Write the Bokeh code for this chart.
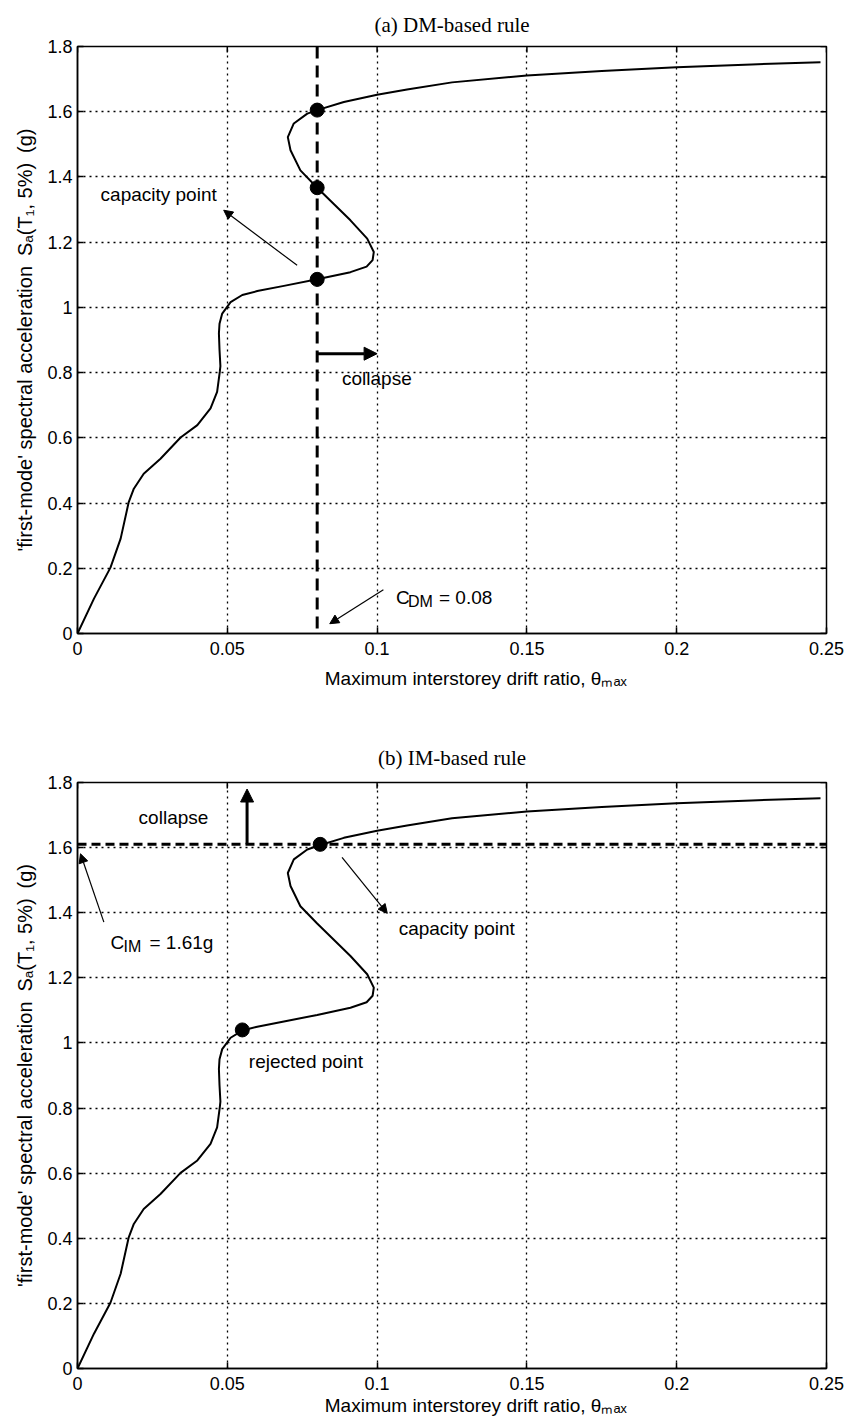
import math
from bokeh.plotting import figure
from bokeh.models import Range1d, FixedTicker, Label, Arrow, NormalHead, Span, Title
from bokeh.layouts import column
from bokeh.embed import file_html
from bokeh.resources import INLINE

# ---------------- data ----------------
drift = [0.0, 0.0055, 0.011, 0.0144, 0.0171, 0.0188, 0.0221, 0.0277, 0.0344, 0.040,
         0.0444, 0.0466, 0.0475, 0.0477, 0.0474, 0.0472, 0.0474, 0.0483, 0.0511, 0.055,
         0.0600, 0.0689, 0.080, 0.0911, 0.0965, 0.0985, 0.0989, 0.0967, 0.0911, 0.080,
         0.0744, 0.0711, 0.0702, 0.0722, 0.0767, 0.080, 0.0889, 0.100, 0.110, 0.125,
         0.150, 0.175, 0.200, 0.225, 0.248]
sa = [0.0, 0.107, 0.202, 0.291, 0.403, 0.444, 0.490, 0.536, 0.601, 0.639,
      0.690, 0.741, 0.803, 0.82, 0.87, 0.92, 0.95, 0.981, 1.016, 1.038,
      1.050, 1.066, 1.086, 1.108, 1.125, 1.145, 1.170, 1.211, 1.267, 1.367,
      1.420, 1.482, 1.522, 1.564, 1.594, 1.605, 1.630, 1.652, 1.668, 1.690,
      1.711, 1.725, 1.736, 1.745, 1.752]

x_ticks = [0, 0.05, 0.1, 0.15, 0.2, 0.25]
x_tick_labels = ["0", "0.05", "0.1", "0.15", "0.2", "0.25"]
y_ticks = [0, 0.2, 0.4, 0.6, 0.8, 1.0, 1.2, 1.4, 1.6, 1.8]
y_tick_labels = ["0", "0.2", "0.4", "0.6", "0.8", "1", "1.2", "1.4", "1.6", "1.8"]

C_DM = 0.08
dm_points_sa = [1.086, 1.367, 1.605]
C_IM = 1.61
im_capacity_drift = [0.081]
im_capacity_sa = [1.61]
im_rejected_drift = [0.055]
im_rejected_sa = [1.04]

titles = ["(a) DM-based rule", "(b) IM-based rule"]
x_label = "\u2003\u2003\u2002Maximum interstorey drift ratio, \u03b8\u2098\u2090\u2093"
y_label = "'first-mode' spectral acceleration\u2002S\u2090(T\u2081, 5%)\u2002(g)"

SANS = "Liberation Sans"
SERIF = "Liberation Serif"
FS = "19px"
SUB = "16px"


def lab(p, x, y, text, size=FS, align="left", baseline="middle", xo=0, yo=0):
    p.add_layout(Label(x=x, y=y, text=text, text_font=SANS, text_font_size=size,
                       text_color="black", text_align=align, text_baseline=baseline,
                       x_offset=xo, y_offset=yo))


def arrow(p, xs, ys, xe, ye, width=1.2, head=9):
    p.add_layout(Arrow(end=NormalHead(size=head, fill_color="black", line_color="black",
                                      line_width=1),
                       x_start=xs, y_start=ys, x_end=xe, y_end=ye,
                       line_color="black", line_width=width))


def make_fig(title, border_top, border_bottom, height, xlabel_standoff, title_standoff):
    p = figure(width=845, height=height,
               x_range=Range1d(x_ticks[0], x_ticks[-1]),
               y_range=Range1d(y_ticks[0], y_ticks[-1]),
               output_backend="svg", toolbar_location=None,
               min_border_left=77, min_border_right=19,
               min_border_top=border_top, min_border_bottom=border_bottom)
    p.title = Title(text=title, align="center", text_font=SERIF, text_font_size="21px",
                    text_font_style="normal", text_color="black", standoff=title_standoff)
    p.background_fill_color = "white"
    p.border_fill_color = "white"
    p.outline_line_color = "black"
    p.outline_line_width = 1.5
    p.outline_line_alpha = 1.0

    for ax, ticks, labels in ((p.xaxis[0], x_ticks, x_tick_labels),
                              (p.yaxis[0], y_ticks, y_tick_labels)):
        ax.ticker = FixedTicker(ticks=ticks)
        ax.major_label_overrides = {t: l for t, l in zip(ticks, labels)}
        ax.axis_line_color = "black"
        ax.axis_line_width = 1.5
        ax.major_tick_in = 6
        ax.major_tick_out = 0
        ax.major_tick_line_width = 1.5
        ax.major_tick_line_color = "black"
        ax.minor_tick_in = 0
        ax.minor_tick_out = 0
        ax.major_label_text_font = SANS
        ax.major_label_text_font_size = "18px"
        ax.major_label_text_color = "black"
        ax.axis_label_text_font = SANS
        ax.axis_label_text_font_style = "normal"
        ax.axis_label_text_color = "black"
    p.xaxis[0].major_label_standoff = 8
    p.yaxis[0].major_label_standoff = 5
    p.xaxis[0].axis_label = x_label
    p.yaxis[0].axis_label = y_label
    p.xaxis[0].axis_label_text_font_size = FS
    p.yaxis[0].axis_label_text_font_size = "20px"
    p.xaxis[0].axis_label_standoff = xlabel_standoff
    p.yaxis[0].axis_label_standoff = 8

    p.xgrid.ticker = FixedTicker(ticks=x_ticks)
    p.ygrid.ticker = FixedTicker(ticks=y_ticks)
    for g in (p.xgrid[0], p.ygrid[0]):
        g.grid_line_color = "black"
        g.grid_line_dash = "2 4"
        g.grid_line_width = 1.3

    # inward ticks on right and top edges of the box
    p.scatter(x=[x_ticks[-1]] * len(y_ticks), y=y_ticks, marker="dash", size=12,
              line_color="black", line_width=1.5)
    p.scatter(x=x_ticks, y=[y_ticks[-1]] * len(x_ticks), marker="dash", size=12,
              angle=math.pi / 2, line_color="black", line_width=1.5)

    # curve
    p.line(drift, sa, line_color="black", line_width=2)
    return p


# ---------------- (a) DM-based rule ----------------
p1 = make_fig(titles[0], 46, 80, 713, 10, 19)
p1.add_layout(Span(location=C_DM, dimension="height", line_color="black",
                   line_width=3, line_dash="12 7"))
p1.scatter([C_DM] * len(dm_points_sa), dm_points_sa, size=14,
           fill_color="black", line_color="black")
lab(p1, 0.0077, 1.347, "capacity point")
arrow(p1, 0.0733, 1.129, 0.0488, 1.298)
arrow(p1, C_DM, 0.858, 0.1, 0.858, width=3, head=13)
lab(p1, 0.0883, 0.782, "collapse")
arrow(p1, 0.1021, 0.134, 0.0842, 0.030)
lab(p1, 0.1063, 0.1095, "C", baseline="alphabetic")
lab(p1, 0.1063, 0.1095, "DM", size=SUB, baseline="alphabetic", xo=12, yo=-4)
lab(p1, 0.1063, 0.1095, "= 0.08", baseline="alphabetic", xo=43)

# ---------------- (b) IM-based rule ----------------
p2 = make_fig(titles[1], 69, 58, 713, 2, 26)
p2.add_layout(Span(location=C_IM, dimension="width", line_color="black",
                   line_width=3, line_dash="9 5"))
p2.scatter(im_capacity_drift, im_capacity_sa, size=14, fill_color="black", line_color="black")
p2.scatter(im_rejected_drift, im_rejected_sa, size=14, fill_color="black", line_color="black")
lab(p2, 0.0204, 1.691, "collapse")
arrow(p2, 0.0566, C_IM, 0.0566, 1.780, width=3, head=13)
arrow(p2, 0.0088, 1.371, 0.001, 1.581)
lab(p2, 0.011, 1.309, "C", baseline="alphabetic")
lab(p2, 0.011, 1.309, "IM", size=SUB, baseline="alphabetic", xo=13, yo=-4)
lab(p2, 0.011, 1.309, "= 1.61g", baseline="alphabetic", xo=39)
arrow(p2, 0.0883, 1.570, 0.1034, 1.398)
lab(p2, 0.1072, 1.351, "capacity point")
lab(p2, 0.0572, 0.943, "rejected point")

layout = column(p1, p2, spacing=0)
open("out.html", "w").write(file_html(layout, INLINE))
